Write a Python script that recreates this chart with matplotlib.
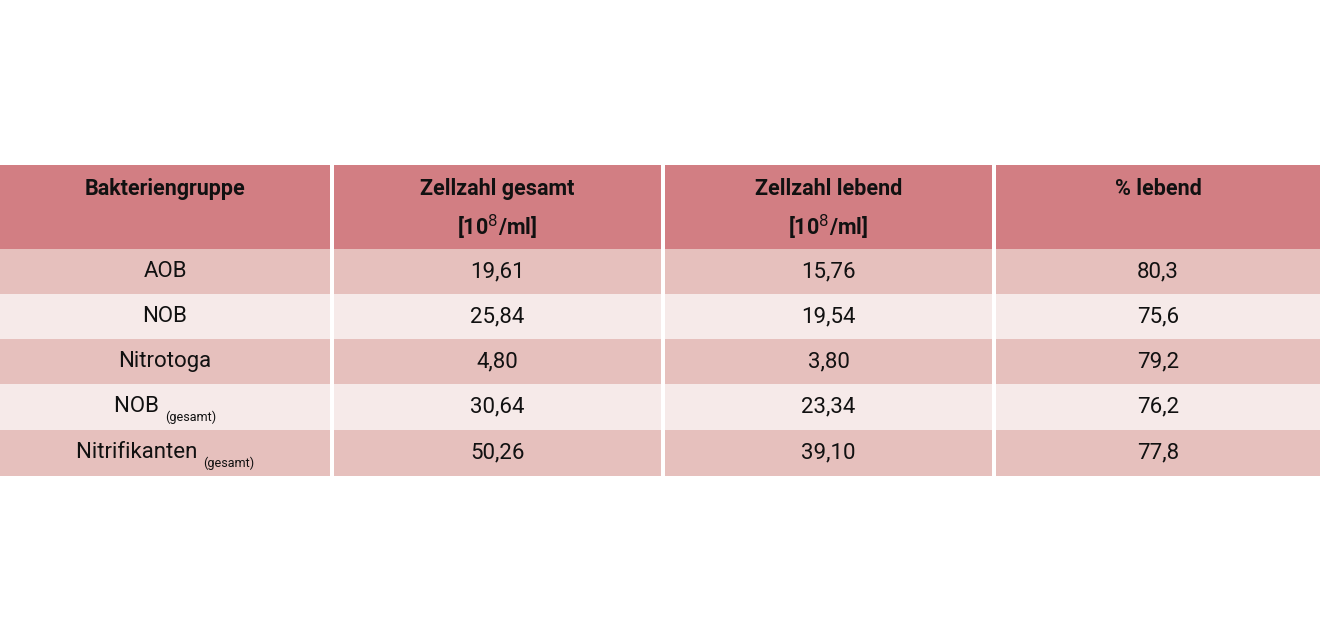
import matplotlib
matplotlib.use("Agg")
import matplotlib.pyplot as plt
from matplotlib.patches import Rectangle

headers = [["Bakteriengruppe"], ["Zellzahl gesamt", "[10$^{8}$/ml]"], ["Zellzahl lebend", "[10$^{8}$/ml]"], ["% lebend"]]
groups = ["AOB", "NOB", "Nitrotoga", "NOB", "Nitrifikanten"]
group_sub = ["", "", "", "(gesamt)", "(gesamt)"]
zell_gesamt = ["19,61", "25,84", "4,80", "30,64", "50,26"]
zell_lebend = ["15,76", "19,54", "3,80", "23,34", "39,10"]
pct_lebend = ["80,3", "75,6", "79,2", "76,2", "77,8"]

W, H = 1320, 636
plt.rcParams['font.family'] = ['Roboto', 'DejaVu Sans']
fig = plt.figure(figsize=(W/100, H/100), dpi=100)
ax = fig.add_axes([0, 0, 1, 1])
ax.set_xlim(0, W); ax.set_ylim(H, 0); ax.axis('off')

cols = [(0, 330), (334, 661), (665, 992), (996, 1320)]
head_col = "#d27e83"; dark = "#e6c0bd"; light = "#f6eae9"
rows_y = [249, 294, 339, 384, 430, 476]
top = 165

for ci, (x0, x1) in enumerate(cols):
    ax.add_patch(Rectangle((x0, top), x1-x0, rows_y[0]-top, color=head_col, lw=0))
    for ri in range(5):
        ax.add_patch(Rectangle((x0, rows_y[ri]), x1-x0, rows_y[ri+1]-rows_y[ri],
                               color=dark if ri % 2 == 0 else light, lw=0))
    cx = (x0 + x1) / 2
    for li, line in enumerate(headers[ci]):
        ax.text(cx, 189 + li*38, line, ha='center', va='center', fontsize=15.5,
                fontweight='bold', color='#111111')

fig.canvas.draw()
r = fig.canvas.get_renderer()
cols_data = [None, zell_gesamt, zell_lebend, pct_lebend]
for ri in range(5):
    cy = (rows_y[ri] + rows_y[ri+1]) / 2
    for ci in range(1, 4):
        x0, x1 = cols[ci]
        ax.text((x0+x1)/2, cy, cols_data[ci][ri], ha='center', va='center',
                fontsize=16, color='#111111')
    cx = (cols[0][0] + cols[0][1]) / 2
    if group_sub[ri]:
        t1 = ax.text(0, cy, groups[ri] + " ", ha='left', va='center', fontsize=16, color='#111111')
        t2 = ax.text(0, cy + 10, group_sub[ri], ha='left', va='center', fontsize=9, color='#111111')
        w1 = t1.get_window_extent(r).width
        w2 = t2.get_window_extent(r).width
        start = cx - (w1 + w2) / 2
        t1.set_x(start); t2.set_x(start + w1)
    else:
        ax.text(cx, cy, groups[ri], ha='center', va='center', fontsize=16, color='#111111')

fig.savefig("out.png", dpi=100, facecolor='white')
